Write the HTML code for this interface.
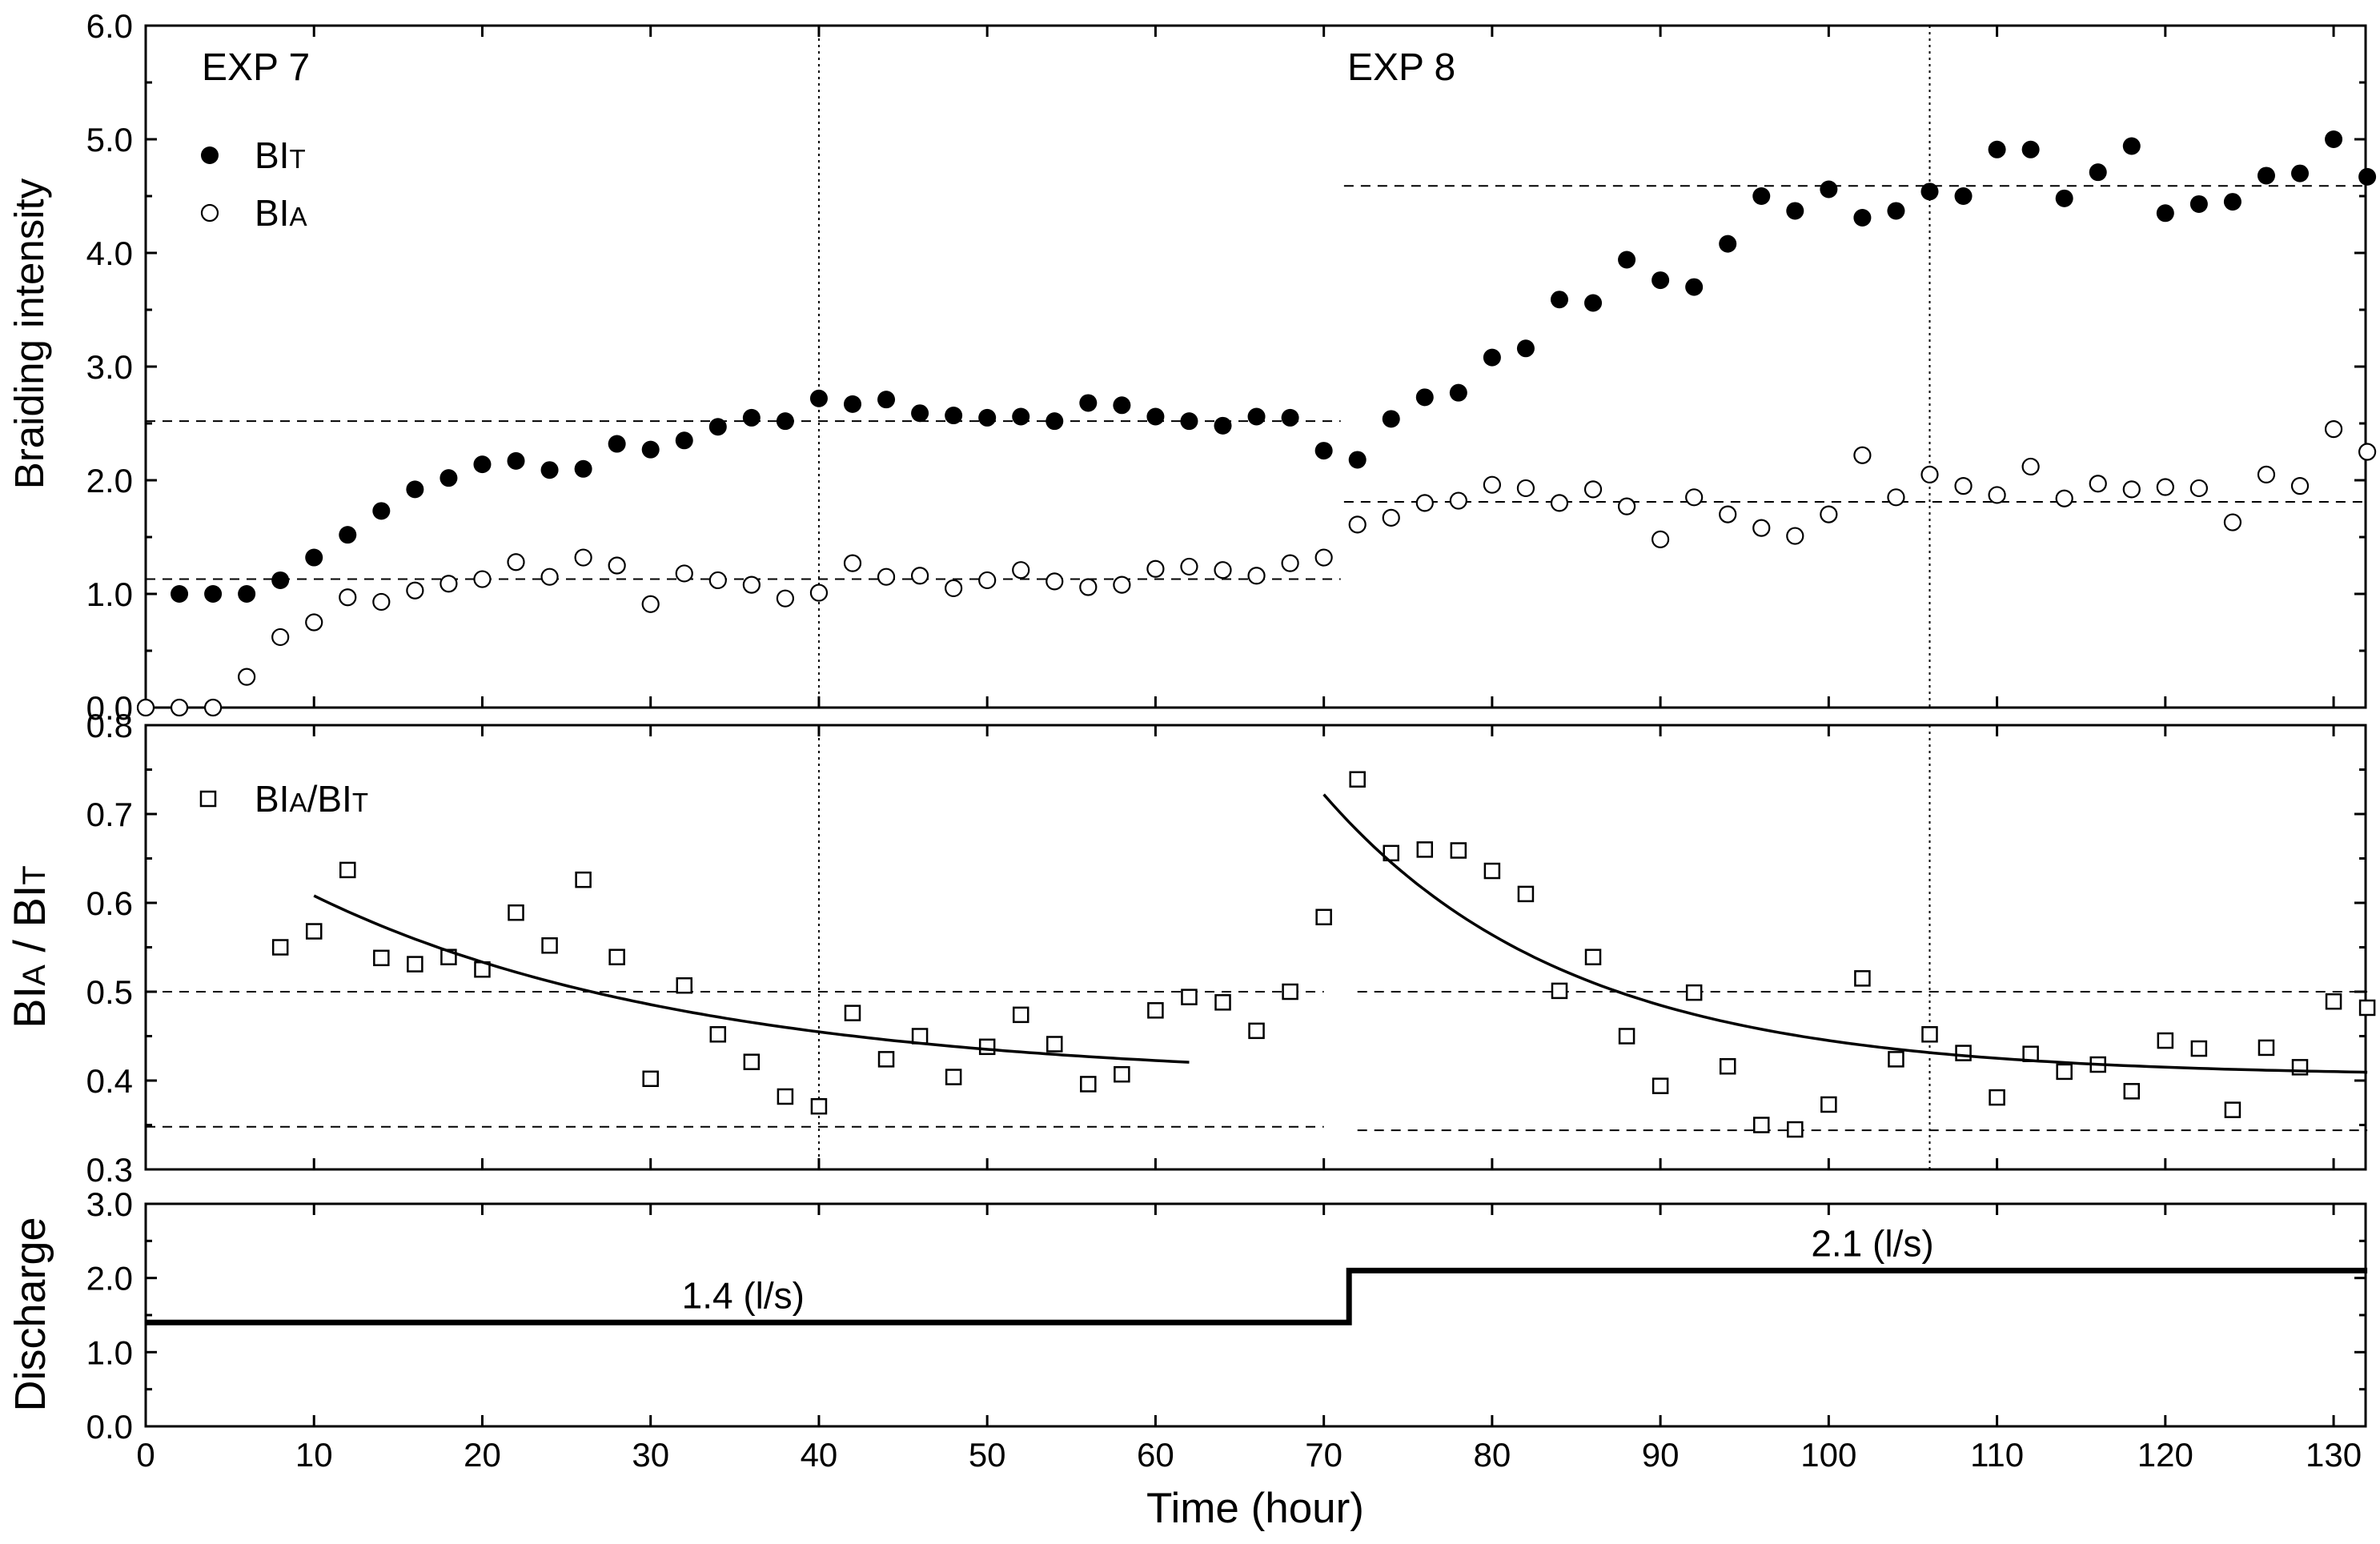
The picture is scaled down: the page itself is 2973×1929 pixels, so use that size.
<!DOCTYPE html>
<html><head><meta charset="utf-8">
<style>
html,body{margin:0;padding:0;background:#fff;}
svg{display:block;font-family:"Liberation Sans",Arial,sans-serif;}
</style></head>
<body>
<svg id="chart" width="2973" height="1929" viewBox="0 0 2973 1929" xmlns="http://www.w3.org/2000/svg">
<g id="layer"></g>
</svg>
<script>
const times = [0,2,4,6,8,10,12,14,16,18,20,22,24,26,28,30,32,34,36,38,40,42,44,46,48,50,52,54,56,58,60,62,64,66,68,70,72,74,76,78,80,82,84,86,88,90,92,94,96,98,100,102,104,106,108,110,112,114,116,118,120,122,124,126,128,130,132];
const biT = [0,1.0,1.0,1.0,1.12,1.32,1.52,1.73,1.92,2.02,2.14,2.17,2.09,2.1,2.32,2.27,2.35,2.47,2.55,2.52,2.72,2.67,2.71,2.59,2.57,2.55,2.56,2.52,2.68,2.66,2.56,2.52,2.48,2.56,2.55,2.26,2.18,2.54,2.73,2.77,3.08,3.16,3.59,3.56,3.94,3.76,3.70,4.08,4.50,4.37,4.56,4.31,4.37,4.54,4.50,4.91,4.91,4.48,4.71,4.94,4.35,4.43,4.45,4.68,4.70,5.00,4.67];
const biA = [0,0,0,0.27,0.62,0.75,0.97,0.93,1.03,1.09,1.13,1.28,1.15,1.32,1.25,0.91,1.18,1.12,1.08,0.96,1.01,1.27,1.15,1.16,1.05,1.12,1.21,1.11,1.06,1.08,1.22,1.24,1.21,1.16,1.27,1.32,1.61,1.67,1.80,1.82,1.96,1.93,1.80,1.92,1.77,1.48,1.85,1.70,1.58,1.51,1.70,2.22,1.85,2.05,1.95,1.87,2.12,1.84,1.97,1.92,1.94,1.93,1.63,2.05,1.95,2.45,2.25];
const ratioTimes = [8,10,12,14,16,18,20,22,24,26,28,30,32,34,36,38,40,42,44,46,48,50,52,54,56,58,60,62,64,66,68,70,72,74,76,78,80,82,84,86,88,90,92,94,96,98,100,102,104,106,108,110,112,114,116,118,120,122,124,126,128,130,132];
const ratio = [0.55,0.568,0.637,0.538,0.531,0.539,0.525,0.589,0.552,0.626,0.539,0.402,0.507,0.452,0.421,0.382,0.371,0.476,0.424,0.450,0.404,0.438,0.474,0.441,0.396,0.407,0.479,0.494,0.488,0.456,0.500,0.584,0.739,0.656,0.660,0.659,0.636,0.610,0.501,0.539,0.450,0.394,0.499,0.416,0.350,0.345,0.373,0.515,0.424,0.452,0.431,0.381,0.430,0.410,0.418,0.388,0.445,0.436,0.367,0.437,0.415,0.489,0.482];
const fit7 = [0.40,0.208,10,62,22.5];
const fit8 = [0.405,0.317,70,132,14.5];
const topRefs = [[2.52,0,71],[1.13,0,71],[4.59,71.2,132],[1.81,71.2,132]];
const midRefs = [[0.50,0,70],[0.348,0,70],[0.50,72,132],[0.344,72,132]];
const dottedTimes = [40,106];
const dischargeSteps = [[0,71.5,1.4],[71.5,132,2.1]];
const xTicks = [0,10,20,30,40,50,60,70,80,90,100,110,120,130];
const topTicks = ["0.0","1.0","2.0","3.0","4.0","5.0","6.0"];
const midTicks = ["0.3","0.4","0.5","0.6","0.7","0.8"];
const botTicks = ["0.0","1.0","2.0","3.0"];

const NS="http://www.w3.org/2000/svg";
const L=document.getElementById('layer');
const X0=182,X1=2955,XMAX=131.9;
const sx=t=>X0+t*(X1-X0)/XMAX;
const P={top:{y0:884,y1:32,min:0,max:6},mid:{y0:1461,y1:906,min:0.3,max:0.8},bot:{y0:1782,y1:1504,min:0,max:3}};
const sy=(p,v)=>p.y0-(v-p.min)*(p.y0-p.y1)/(p.max-p.min);
function mk(tag,attrs,parent){const e=document.createElementNS(NS,tag);for(const k in attrs)e.setAttribute(k,attrs[k]);(parent||L).appendChild(e);return e;}
function txt(s,x,y,size,anchor,name){const e=mk('text',{x:x,y:y,'font-size':size,'text-anchor':anchor||'middle',fill:'#000'});e.textContent=s;


return e;}

function panel(p,name,ticks,step){
  const r=mk('rect',{x:X0,y:p.y1,width:X1-X0,height:p.y0-p.y1,fill:'none',stroke:'#000','stroke-width':3});
  
  
  xTicks.forEach(t=>{
    const a=mk('line',{x1:sx(t),x2:sx(t),y1:p.y0,y2:p.y0-14,stroke:'#000','stroke-width':3});
    
    
    const b=mk('line',{x1:sx(t),x2:sx(t),y1:p.y1,y2:p.y1+14,stroke:'#000','stroke-width':3});
    
    
  });
  ticks.forEach((s,i)=>{
    const v=p.min+i*step, y=sy(p,v);
    const a=mk('line',{x1:X0,x2:X0+14,y1:y,y2:y,stroke:'#000','stroke-width':3});
    
    
    const b=mk('line',{x1:X1,x2:X1-14,y1:y,y2:y,stroke:'#000','stroke-width':3});
    
    
    txt(s,166,y+15,42,'end',name+'-y-tick-label');
    if(i<ticks.length-1){const ym=sy(p,v+step/2);
      const c=mk('line',{x1:X0,x2:X0+8,y1:ym,y2:ym,stroke:'#000','stroke-width':3});
      
      
      const d=mk('line',{x1:X1,x2:X1-8,y1:ym,y2:ym,stroke:'#000','stroke-width':3});
      
      }
  });
}
panel(P.top,'top-panel',topTicks,1);
panel(P.mid,'ratio-panel',midTicks,0.1);
panel(P.bot,'discharge-panel',botTicks,1);

xTicks.forEach(t=>txt(String(t),sx(t),1832,42,'middle','x-tick-label'));

function dashed(p,v,t0,t1,name){const e=mk('line',{x1:sx(t0),x2:sx(t1),y1:sy(p,v),y2:sy(p,v),stroke:'#000','stroke-width':2,'stroke-dasharray':'12,9'});

}
topRefs.forEach(r=>dashed(P.top,r[0],r[1],r[2],'top-reference-line'));
midRefs.forEach(r=>dashed(P.mid,r[0],r[1],r[2],'ratio-reference-line'));
dottedTimes.forEach(t=>{
  [P.top,P.mid].forEach(p=>{const e=mk('line',{x1:sx(t),x2:sx(t),y1:p.y1,y2:p.y0,stroke:'#000','stroke-width':2,'stroke-dasharray':'3,5'});
  
  });
});

times.forEach((t,i)=>{
  const c=mk('circle',{cx:sx(t),cy:sy(P.top,biT[i]),r:11,fill:'#000'});
  
  
});
times.forEach((t,i)=>{
  const c=mk('circle',{cx:sx(t),cy:sy(P.top,biA[i]),r:10,fill:'#fff',stroke:'#000','stroke-width':2.2});
  
  
});
ratioTimes.forEach((t,i)=>{
  const r=mk('rect',{x:sx(t)-9,y:sy(P.mid,ratio[i])-9,width:18,height:18,fill:'#fff',stroke:'#000','stroke-width':2.5});
  
  
});
[fit7,fit8].forEach(f=>{
  let d='';for(let t=f[2];t<=f[3]+0.001;t+=0.5){const v=f[0]+f[1]*Math.exp(-(t-f[2])/f[4]);d+=(d?'L':'M')+sx(t).toFixed(1)+','+sy(P.mid,v).toFixed(1);}
  const e=mk('path',{d:d,fill:'none',stroke:'#000','stroke-width':3.5});
  
  
});
{
  let d='';dischargeSteps.forEach(s=>{d+=(d?'L':'M')+sx(s[0])+','+sy(P.bot,s[2])+'L'+sx(s[1])+','+sy(P.bot,s[2]);});
  const e=mk('path',{d:d,fill:'none',stroke:'#000','stroke-width':7});
  
  
}
txt('1.4 (l/s)',sx(35.5),sy(P.bot,1.4)-18,46,'middle','discharge-label-exp7');
txt('2.1 (l/s)',sx(102.6),sy(P.bot,2.1)-18,46,'middle','discharge-label-exp8');
txt('EXP 7',252,100,48,'start','exp7-label');
txt('EXP 8',1683,100,48,'start','exp8-label');

{const c=mk('circle',{cx:262,cy:194,r:11,fill:'#000'});


const c2=mk('circle',{cx:262,cy:266,r:10,fill:'#fff',stroke:'#000','stroke-width':2.2});


const r=mk('rect',{x:251,y:989,width:18,height:18,fill:'#fff',stroke:'#000','stroke-width':2.5});

}
function sub(x,y,parts,size,name){const t=mk('text',{x:x,y:y,'font-size':size,fill:'#000'});


parts.forEach(p=>{const s=mk('tspan',{'font-size':p[1]?size*0.72:size},t);s.textContent=p[0];});return t;}
sub(318,210,[['BI',0],['T',1]],46,'legend-bit-label');
sub(318,282,[['BI',0],['A',1]],46,'legend-bia-label');
sub(318,1014,[['BI',0],['A',1],['/BI',0],['T',1]],46,'legend-ratio-label');

{const t=mk('text',{x:0,y:0,'font-size':51,'text-anchor':'middle',transform:'translate(54,417) rotate(-90)'});t.textContent='Braiding intensity';

}
{const t=mk('text',{x:0,y:0,'font-size':56,'text-anchor':'middle',transform:'translate(56,1183) rotate(-90)'});


[['BI',0],['A',1],[' / BI',0],['T',1]].forEach(p=>{const s=mk('tspan',{'font-size':p[1]?40:56},t);s.textContent=p[0];});}
{const t=mk('text',{x:0,y:0,'font-size':54,'text-anchor':'middle',transform:'translate(56,1642) rotate(-90)'});t.textContent='Discharge';

}
txt('Time (hour)',1568,1902,53,'middle','x-axis-title');
</script>
</body></html>
